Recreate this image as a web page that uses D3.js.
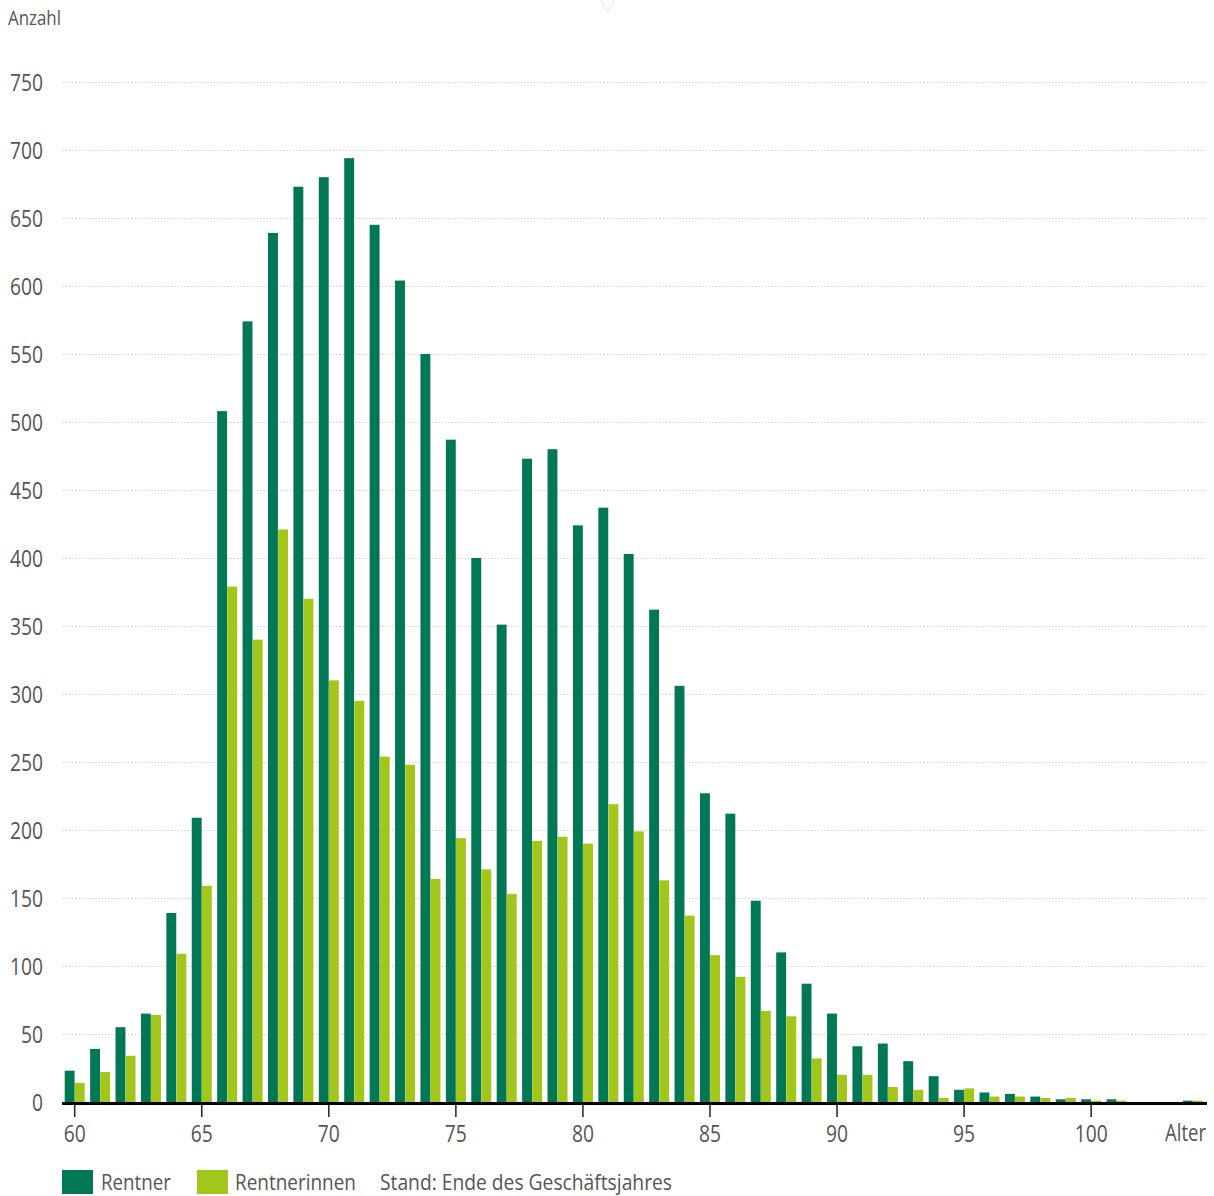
<!DOCTYPE html>
<html>
<head>
<meta charset="utf-8">
<script src="https://cdn.jsdelivr.net/npm/d3@7"></script>
<style>
  body { margin: 0; background: #fff; }
  text { font-family: "Open Sans", sans-serif; fill: #555; }
</style>
</head>
<body>
<div id="container"></div>
<script>
/* DATA */
const ages = d3.range(60, 105);
const rentner = [23, 39, 55, 65, 139, 209, 508, 574, 639, 673,
  680, 694, 645, 604, 550, 487, 400, 351, 473, 480,
  424, 437, 403, 362, 306, 227, 212, 148, 110, 87,
  65, 41, 43, 30, 19, 9, 7, 6, 4, 2,
  2, 2, 0, 0, 1];
const rentnerinnen = [14, 22, 34, 64, 109, 159, 379, 340, 421, 370,
  310, 295, 254, 248, 164, 194, 171, 153, 192, 195,
  190, 219, 199, 163, 137, 108, 92, 67, 63, 32,
  20, 20, 11, 9, 3, 10, 4, 4, 3, 3,
  1, 1, 0, 0, 1];
const seriesNames = ["Rentner", "Rentnerinnen"];
const colors = ["#007755", "#a3c61a"];
const yTicks = d3.range(0, 751, 50);
const xTicks = [60, 65, 70, 75, 80, 85, 90, 95, 100];

/* CONSTANTS */
const width = 1214, height = 1196;
const plot = {left: 62, right: 1207, top: 82, bottom: 1102};
const font = '"Open Sans", sans-serif';

// the original uses a condensed face, squeeze the text to its width
function condense(sel, w) {
  sel.attr("textLength", w).attr("lengthAdjust", "spacingAndGlyphs");
}

const svg = d3.select("#container").append("svg")
  .attr("width", width)
  .attr("height", height);

// SCALES
const xScale = d3.scaleBand()
  .domain(ages)
  .range([plot.left, plot.right - 1.5])
  .paddingInner(0)
  .paddingOuter(0);

const inner = d3.scaleBand()
  .domain(seriesNames)
  .range([xScale.bandwidth() / 2 - 10, xScale.bandwidth() / 2 + 10])
  .paddingInner(0.02);

const yScale = d3.scaleLinear()
  .domain([0, 750])
  .range([plot.bottom, plot.top]);

// grid lines
svg.append("g")
  .selectAll("line")
  .data(yTicks.filter(d => d > 0))
  .join("line")
  .attr("x1", plot.left)
  .attr("x2", plot.right)
  .attr("y1", d => yScale(d) + 0.5)
  .attr("y2", d => yScale(d) + 0.5)
  .attr("stroke", "#d2d2d2")
  .attr("stroke-width", 1.2)
  .attr("stroke-dasharray", "1.5,1.8");

// y axis labels
const yAxis = svg.append("g")
  .attr("transform", `translate(${plot.left - 19},0)`)
  .call(d3.axisLeft(yScale).tickValues(yTicks).tickSize(0).tickPadding(0));
yAxis.select(".domain").remove();
yAxis.selectAll("text")
  .attr("font-size", 24)
  .attr("dy", "0.37em")
  .style("font-family", font)
  .attr("fill", "#555")
  .each(function(d) { condense(d3.select(this), String(d).length * 11); });

// bars
const data = ages.map((a, i) => ({ age: a, values: [rentner[i], rentnerinnen[i]] }));
svg.append("g")
  .selectAll("g")
  .data(data)
  .join("g")
  .attr("transform", d => `translate(${xScale(d.age)},0)`)
  .selectAll("rect")
  .data(d => d.values.map((v, j) => ({ key: seriesNames[j], value: v, j })))
  .join("rect")
  .attr("x", d => inner(d.key))
  .attr("width", inner.bandwidth())
  .attr("y", d => yScale(d.value))
  .attr("height", d => plot.bottom - yScale(d.value))
  .attr("fill", d => colors[d.j]);

// x axis
const xAxis = svg.append("g")
  .attr("transform", `translate(0,${plot.bottom})`)
  .call(d3.axisBottom(xScale).tickValues(xTicks).tickSize(15).tickPadding(8).tickSizeOuter(0));
xAxis.select(".domain").remove();
xAxis.selectAll(".tick line").attr("stroke", "#222").attr("stroke-width", 1.5);
xAxis.selectAll("text")
  .attr("font-size", 24)
  .attr("y", 40)
  .attr("dy", 0)
  .style("font-family", font)
  .attr("fill", "#555")
  .each(function(d) { condense(d3.select(this), String(d).length * 11); });

svg.append("line")
  .attr("x1", plot.left)
  .attr("x2", plot.right)
  .attr("y1", plot.bottom + 1.5)
  .attr("y2", plot.bottom + 1.5)
  .attr("stroke", "#000")
  .attr("stroke-width", 3);

svg.append("text")
  .attr("x", 1206)
  .attr("y", 1141)
  .attr("text-anchor", "end")
  .attr("font-size", 24)
  .text("Alter")
  .call(condense, 41);

svg.append("text")
  .attr("x", 8)
  .attr("y", 25)
  .attr("font-size", 20)
  .text("Anzahl")
  .call(condense, 53);

// small dotted marker at top
svg.append("path")
  .attr("d", "M601,0 L608,12 L615,0")
  .attr("fill", "none")
  .attr("stroke", "#d0d0d0")
  .attr("stroke-width", 1)
  .attr("stroke-dasharray", "1.5,1.5");

// legend
const legendItems = [
  { label: seriesNames[0], color: colors[0], x: 62, tx: 101, w: 70 },
  { label: seriesNames[1], color: colors[1], x: 197, tx: 235, w: 121 }
];
const legend = svg.append("g");
legend.selectAll("rect")
  .data(legendItems)
  .join("rect")
  .attr("x", d => d.x)
  .attr("y", 1170)
  .attr("width", 31)
  .attr("height", 24)
  .attr("fill", d => d.color);
legend.selectAll("text")
  .data(legendItems)
  .join("text")
  .attr("x", d => d.tx)
  .attr("y", 1190)
  .attr("font-size", 22)
  .attr("textLength", d => d.w)
  .attr("lengthAdjust", "spacingAndGlyphs")
  .text(d => d.label);
svg.append("text")
  .attr("x", 380)
  .attr("y", 1190)
  .attr("font-size", 22)
  .text("Stand: Ende des Geschäftsjahres")
  .call(condense, 292);
</script>
</body>
</html>
